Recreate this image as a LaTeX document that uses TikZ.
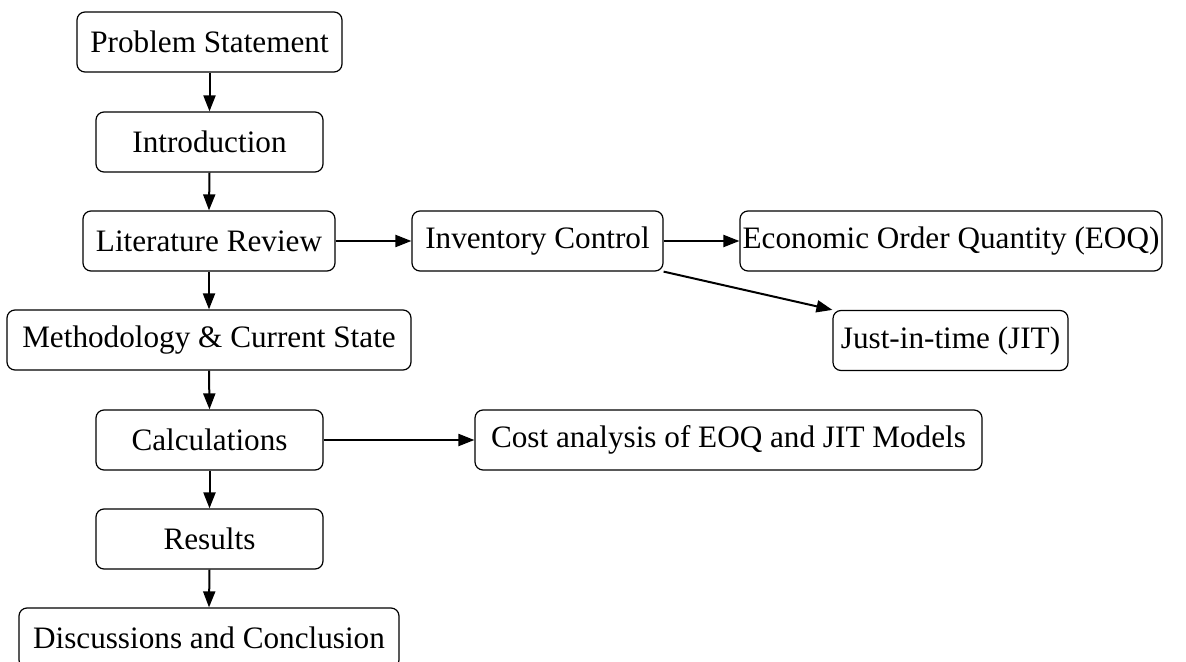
\documentclass[tikz,border=0pt]{standalone}
\usepackage{fontspec}
\setmainfont{Liberation Serif}
\usetikzlibrary{arrows.meta}
\begin{document}
\begin{tikzpicture}[x=0.5pt,y=-0.5pt,
  box/.style={draw,line width=0.6pt,rounded corners=4pt,minimum height=30pt,inner sep=0pt,
    font=\fontsize{15.6}{19}\selectfont},
  arr/.style={line width=1pt,-{Triangle[length=8pt,width=6pt]}}]
\useasboundingbox (0,0) rectangle (1186,662);
\node[box,minimum width=132.5pt] (ps) at (209.5,42) {Problem Statement};
\node[box,minimum width=113.5pt] (intro) at (209.5,142) {Introduction};
\node[box,minimum width=126pt] (lr) at (209,241) {Literature Review};
\node[box,minimum width=202pt] (meth) at (209,340) {Methodology \& Current State};
\node[box,minimum width=113.5pt] (calc) at (209.5,440) {Calculations};
\node[box,minimum width=113.5pt] (res) at (209.5,539) {Results};
\node[box,minimum width=190pt] (disc) at (209,638) {Discussions and Conclusion};
\node[box,minimum width=125.5pt] (inv) at (537.5,241) {Inventory Control};
\node[box,minimum width=211pt] (eoq) at (951,241) {Economic Order Quantity (EOQ)};
\node[box,minimum width=117.5pt] (jit) at (950.5,340.5) {Just-in-time (JIT)};
\node[box,minimum width=253.5pt] (cost) at (728.5,440) {Cost analysis of EOQ and JIT Models};
\draw[arr] (ps.south) -- (intro.north);
\draw[arr] (intro.south) -- (lr.north);
\draw[arr] (lr.south) -- (meth.north);
\draw[arr] (meth.south) -- (calc.north);
\draw[arr] (calc.south) -- (res.north);
\draw[arr] (res.south) -- (disc.north);
\draw[arr] (lr.east) -- (inv.west);
\draw[arr] (inv.east) -- (eoq.west);
\draw[arr] (inv.south east) -- (jit.north west);
\draw[arr] (calc.east) -- (cost.west);
\end{tikzpicture}
\end{document}
